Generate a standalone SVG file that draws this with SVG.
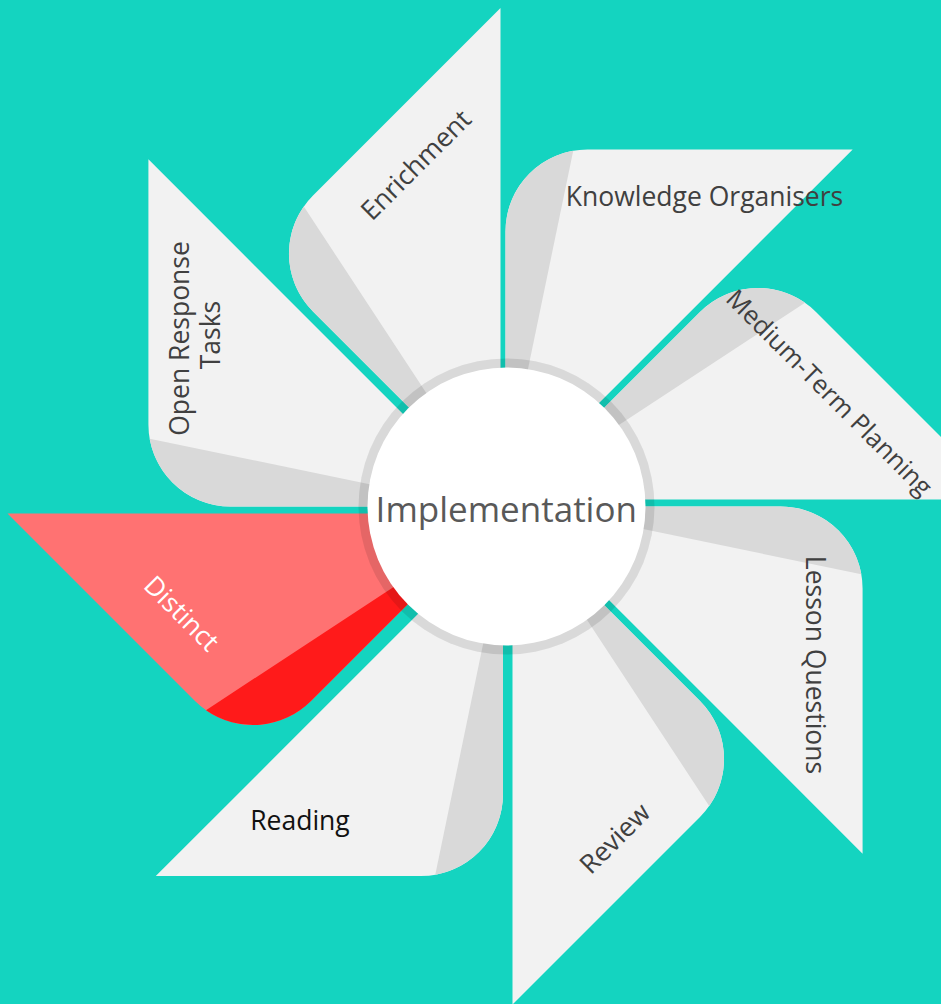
<svg xmlns="http://www.w3.org/2000/svg" xmlns:xlink="http://www.w3.org/1999/xlink" width="941" height="1004" viewBox="0 0 941 1004">
  <style>
    .body { fill: #f2f2f2; }
    .shade { fill: #d9d9d9; }
    .body-red { fill: #ff7272; }
    .shade-red { fill: #ff1a1a; }
    .lbl { font-family: 'Open Sans', 'Noto Sans', 'Liberation Sans', sans-serif; font-size: 26.5px; fill: #404040; text-anchor: middle; }
    .center-lbl { font-family: 'Open Sans', 'Noto Sans', 'Liberation Sans', sans-serif; font-size: 35px; fill: #595959; text-anchor: middle; }
  </style>
  <defs>
    <path id="blade" d="M 0,-7 L 498,-7 L 310.5,-194.5 A 82 82 0 0 0 194.5,-194.5 L 0,0 Z"/>
    <path id="bladeShade" d="M 0,-7 L 299.5,-203.7 A 82 82 0 0 0 194.5,-194.5 L 0,0 Z"/>
  </defs>
  <rect x="0" y="0" width="941" height="1004" fill="#14d4c0"/>

  <g id="node-medium-term-planning">
    <g transform="translate(505.5,506.5) rotate(0)">
      <use xlink:href="#blade" class="body"/>
      <use xlink:href="#bladeShade" class="shade"/>
    </g>
    <text class="lbl" transform="translate(828,394) rotate(45)" x="0" y="7" style="font-size:25.5px">Medium-Term Planning</text>
  </g>

  <g id="node-lesson-questions">
    <g transform="translate(505.5,506.5) rotate(45)">
      <use xlink:href="#blade" class="body"/>
      <use xlink:href="#bladeShade" class="shade"/>
    </g>
    <text class="lbl" transform="translate(813,665) rotate(90)" x="0" y="7">Lesson Questions</text>
  </g>

  <g id="node-review">
    <g transform="translate(505.5,506.5) rotate(90)">
      <use xlink:href="#blade" class="body"/>
      <use xlink:href="#bladeShade" class="shade"/>
    </g>
    <text class="lbl" transform="translate(616.5,840) rotate(-45)" x="0" y="7">Review</text>
  </g>

  <g id="node-reading">
    <g transform="translate(503,519) rotate(135)">
      <use xlink:href="#blade" class="body"/>
      <use xlink:href="#bladeShade" class="shade"/>
    </g>
    <text class="lbl" x="300" y="830" style="fill:#111111">Reading</text>
  </g>

  <g id="node-distinct">
    <g transform="translate(505.5,506.5) rotate(180)">
      <use xlink:href="#blade" class="body-red"/>
      <use xlink:href="#bladeShade" class="shade-red"/>
    </g>
    <text class="lbl" transform="translate(180,615) rotate(45)" x="0" y="7" style="fill:#ffffff">Distinct</text>
  </g>

  <g id="node-open-response-tasks">
    <g transform="translate(505.5,506.5) rotate(225)">
      <use xlink:href="#blade" class="body"/>
      <use xlink:href="#bladeShade" class="shade"/>
    </g>
    <text class="lbl" transform="translate(201.5,335) rotate(-90)">
      <tspan x="0" y="-13">Open Response</tspan>
      <tspan x="0" y="18.7">Tasks</tspan>
    </text>
  </g>

  <g id="node-enrichment">
    <g transform="translate(507.5,506) rotate(270)">
      <use xlink:href="#blade" class="body"/>
      <use xlink:href="#bladeShade" class="shade"/>
    </g>
    <text class="lbl" transform="translate(417.5,166.5) rotate(-45)" x="0" y="7">Enrichment</text>
  </g>

  <g id="node-knowledge-organisers">
    <g transform="translate(505.5,506.5) rotate(315)">
      <use xlink:href="#blade" class="body"/>
      <use xlink:href="#bladeShade" class="shade"/>
    </g>
    <text class="lbl" x="704.5" y="205.7">Knowledge Organisers</text>
  </g>

  <g id="connectors"></g>

  <g id="node-implementation">
    <circle cx="506.5" cy="506.5" r="148" fill="#000000" fill-opacity="0.1"/>
    <circle cx="506.5" cy="506.5" r="139" fill="#ffffff"/>
    <text class="center-lbl" x="506.3" y="521.7">Implementation</text>
  </g>
</svg>
